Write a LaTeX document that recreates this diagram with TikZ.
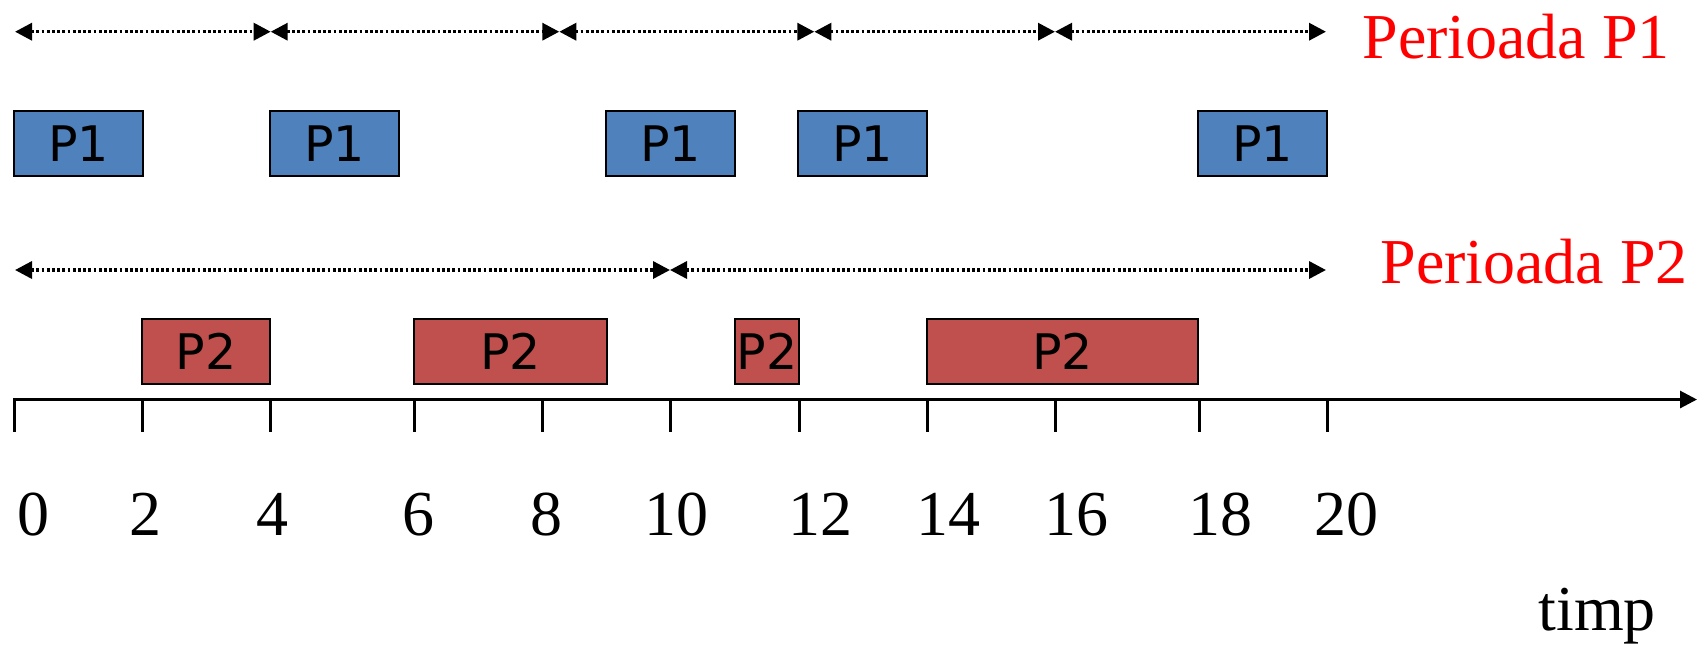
\documentclass[tikz,border=0pt]{standalone}
\usepackage{fontspec}
\setmainfont{Liberation Serif}
\newfontfamily\boxfont{DejaVu Sans}
\usetikzlibrary{arrows.meta}
\definecolor{taskblue}{HTML}{4F81BD}
\definecolor{taskred}{HTML}{C0504D}
\definecolor{labelred}{HTML}{FF0000}
\begin{document}
\begin{tikzpicture}[x=0.5pt,y=-0.5pt,
  task/.style={draw=black, line width=1pt, inner sep=0pt, minimum height=32.5pt,
    font=\boxfont\fontsize{24.5}{24.5}\selectfont},
  taskA/.style={task, fill=taskblue},
  taskB/.style={task, fill=taskred},
  period/.style={line width=1.7pt, dash pattern=on 1.4pt off 1.2pt, {Triangle[length=8.5pt,width=8.5pt]}-{Triangle[length=8.5pt,width=8.5pt]}},
  axis/.style={line width=1.5pt, -{Triangle[length=8.5pt,width=8.5pt]}},
  tick/.style={line width=1.5pt},
  num/.style={anchor=base, inner sep=0pt, font=\fontsize{32}{32}\selectfont},
  title/.style={anchor=base west, inner sep=0pt, text=labelred, font=\fontsize{32}{32}\selectfont}
]
\useasboundingbox (0,0) rectangle (1702,645);

% period markers for P1 (every 4 time units)
\coordinate (a0) at (15,31.7);
\coordinate (a1) at (270.7,31.7);
\coordinate (a2) at (559.3,31.7);
\coordinate (a3) at (814.3,31.7);
\coordinate (a4) at (1055,31.7);
\coordinate (a5) at (1326,31.7);
\draw[period] (a0) -- (a1);
\draw[period] (a1) -- (a2);
\draw[period] (a2) -- (a3);
\draw[period] (a3) -- (a4);
\draw[period] (a4) -- (a5);
\node[title] (per1) at (1362,58) {Perioada P1};

% P1 execution slots
\node[taskA, minimum width=64.5pt] (p1a) at (78.5,143.5) {P1};
\node[taskA, minimum width=64.5pt] (p1b) at (334.5,143.5) {P1};
\node[taskA, minimum width=64.5pt] (p1c) at (670.5,143.5) {P1};
\node[taskA, minimum width=64.5pt] (p1d) at (862.5,143.5) {P1};
\node[taskA, minimum width=64.5pt] (p1e) at (1262.5,143.5) {P1};

% period markers for P2 (every 10 time units)
\coordinate (b0) at (15,270);
\coordinate (b1) at (670,270);
\coordinate (b2) at (1326,270);
\draw[period] (b0) -- (b1);
\draw[period] (b1) -- (b2);
\node[title] (per2) at (1380,283) {Perioada P2};

% P2 execution slots
\node[taskB, minimum width=64pt] (p2a) at (206,351.5) {P2};
\node[taskB, minimum width=96.5pt] (p2b) at (510.5,351.5) {P2};
\node[taskB, minimum width=32pt] (p2c) at (767,351.5) {P2};
\node[taskB, minimum width=135.5pt] (p2d) at (1062.5,351.5) {P2};

% time axis
\coordinate (ax0) at (13.3,399.5);
\coordinate (ax1) at (1697,399.5);
\draw[axis] (ax0) -- (ax1);
\foreach \v/\tx/\lx in {0/14/33.7, 2/142/145, 4/270/272, 6/414/418, 8/542/546,
    10/670/676, 12/799/820, 14/927/948, 16/1055/1076, 18/1199/1220, 20/1327/1346} {
  \coordinate (t\v) at (\tx,399.5);
  \coordinate (tb\v) at (\tx,431.7);
  \draw[tick] (t\v) -- (tb\v);
  \node[num] (n\v) at (\lx,535.7) {\v};
}
\node[num, anchor=base west] (timp) at (1538,630) {timp};
\end{tikzpicture}
\end{document}
